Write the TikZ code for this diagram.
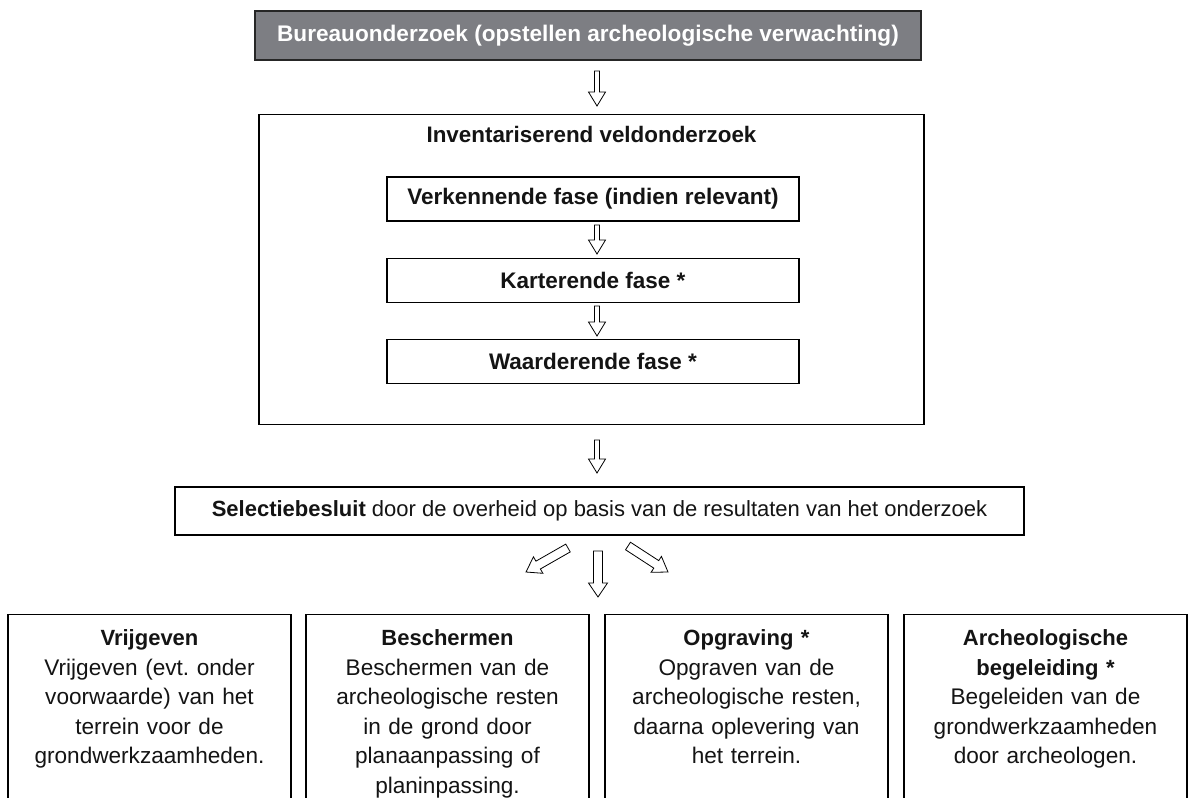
\documentclass[tikz,border=0pt]{standalone}
\usepackage{fontspec}
\setmainfont{Liberation Sans}
\usetikzlibrary{calc}
\frenchspacing
\definecolor{topgray}{RGB}{125,126,131}
\definecolor{txt}{RGB}{20,20,20}
\tikzset{
  box/.style={draw=black, line width=1.2pt, fill=white, align=center, inner sep=0pt, text=txt,
    font=\fontsize{22}{29.5}\selectfont},
  phase/.style={box, minimum width=412, minimum height=44, font=\bfseries\fontsize{22.5}{27}\selectfont},
  outcome/.style={box, anchor=north, minimum width=283, text width=279, inner ysep=15,
    text height=16, text depth=230, font=\fontsize{22.6}{29.5}\selectfont},
  title/.style={font=\bfseries\fontsize{22}{26}\selectfont},
  blockarrow/.style n args={3}{draw=black, line width=0.8pt, fill=white, line join=miter,
    to path={let \p1=(\tikztostart), \p2=(\tikztotarget),
      \n1={veclen(\x2-\x1,\y2-\y1)}, \n2={atan2(\y2-\y1,\x2-\x1)} in
      {[shift={(\p1)}, rotate=\n2] (0,-#1) -- (\n1-#3,-#1) -- (\n1-#3,-#2) -- (\n1,0)
        -- (\n1-#3,#2) -- (\n1-#3,#1) -- (0,#1) -- cycle}}},
  narrowarrow/.style={blockarrow={2.5}{8.5}{14}},
  widearrow/.style={blockarrow={4.5}{9.5}{14}}
}
\newcommand{\btitle}[1]{{\bfseries\fontsize{22}{29.5}\selectfont #1}}
\begin{document}
\begin{tikzpicture}[x=1pt,y=1pt]
\useasboundingbox (0,0) rectangle (1189,-798);
\clip (0,0) rectangle (1189,-798);

\node[box, fill=topgray, draw=black!85, text=white, minimum width=666, minimum height=49,
  font=\bfseries\fontsize{22.6}{26}\selectfont] (bureau) at (588,-35.5)
  {Bureauonderzoek (opstellen archeologische verwachting)};

\node[box, anchor=north, minimum width=665, inner ysep=12, text height=16, text depth=270,
  font=\bfseries\fontsize{22.4}{26}\selectfont] (inv) at (591.5,-114)
  {Inventariserend veldonderzoek};

\node[phase] (verk) at (593,-199) {Verkennende fase (indien relevant)};
\node[phase] (kart) at (593,-280.5) {Karterende fase *};
\node[phase] (waard) at (593,-361.5) {Waarderende fase *};

\node[box, minimum width=849, minimum height=48] (sel) at (599.5,-511)
  {\textbf{Selectiebesluit} door de overheid op basis van de resultaten van het onderzoek};

\node[outcome] (vrij) at (149.5,-614)
  {\btitle{Vrijgeven}\\Vrijgeven (evt. onder\\voorwaarde) van het\\terrein voor de\\grondwerkzaamheden.};
\node[outcome] (besch) at (447.5,-614)
  {\btitle{Beschermen}\\Beschermen van de\\archeologische resten\\in de grond door\\planaanpassing of\\planinpassing.};
\node[outcome] (opgr) at (746.5,-614)
  {\btitle{Opgraving *}\\Opgraven van de\\archeologische resten,\\daarna oplevering van\\het terrein.};
\node[outcome] (begel) at (1045.5,-614)
  {\btitle{Archeologische}\\\btitle{begeleiding *}\\Begeleiden van de\\grondwerkzaamheden\\door archeologen.};

% arrow end points
\coordinate (a1s) at (597,-71);   \coordinate (a1e) at (597,-106);
\coordinate (a2s) at (597,-225);  \coordinate (a2e) at (597,-254);
\coordinate (a3s) at (597,-306);  \coordinate (a3e) at (597,-336);
\coordinate (a4s) at (597,-440);  \coordinate (a4e) at (597,-473);
\coordinate (l1s) at (568,-548);  \coordinate (l1e) at (526,-572);
\coordinate (c1s) at (598,-551);  \coordinate (c1e) at (598,-597);
\coordinate (r1s) at (628,-546);  \coordinate (r1e) at (668,-572);

\draw[narrowarrow] (a1s) to (a1e);
\draw[narrowarrow] (a2s) to (a2e);
\draw[narrowarrow] (a3s) to (a3e);
\draw[narrowarrow] (a4s) to (a4e);
\draw[widearrow] (l1s) to (l1e);
\draw[widearrow] (c1s) to (c1e);
\draw[widearrow] (r1s) to (r1e);
\end{tikzpicture}
\end{document}
